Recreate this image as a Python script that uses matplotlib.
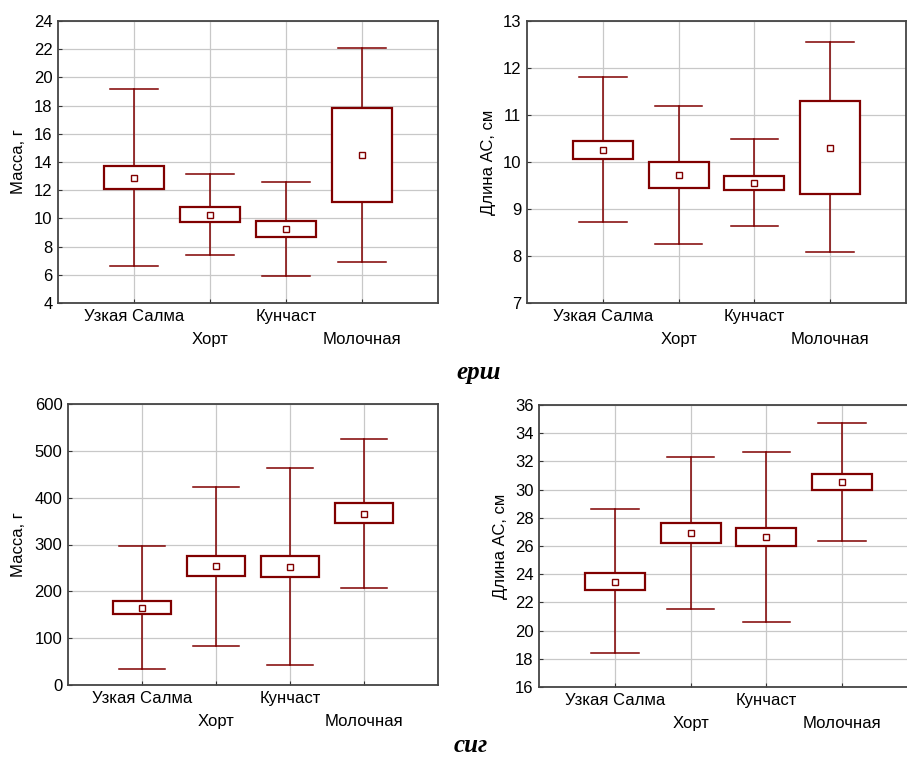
import numpy as np
import matplotlib
matplotlib.use("Agg")
import matplotlib.pyplot as plt
from matplotlib.transforms import blended_transform_factory

plt.rcParams["font.family"] = ["Liberation Sans", "DejaVu Sans"]
plt.rcParams["font.size"] = 12

# водоёмы
lakes = ["Узкая Салма", "Хорт", "Кунчаст", "Молочная"]

# ерш: масса, г
ruff_mass_mean = [12.9, 10.25, 9.25, 14.5]
ruff_mass_q1 = [12.1, 9.75, 8.7, 11.15]
ruff_mass_q3 = [13.75, 10.8, 9.8, 17.85]
ruff_mass_lo = [6.65, 7.4, 5.9, 6.9]
ruff_mass_hi = [19.2, 13.15, 12.6, 22.05]

# ерш: длина АС, см
ruff_len_mean = [10.25, 9.73, 9.56, 10.3]
ruff_len_q1 = [10.07, 9.45, 9.4, 9.32]
ruff_len_q3 = [10.45, 10.0, 9.7, 11.3]
ruff_len_lo = [8.72, 8.25, 8.63, 8.08]
ruff_len_hi = [11.8, 11.2, 10.48, 12.55]

# сиг: масса, г
whitefish_mass_mean = [165, 254, 252, 366]
whitefish_mass_q1 = [152, 232, 230, 345]
whitefish_mass_q3 = [180, 275, 275, 388]
whitefish_mass_lo = [35, 84, 42, 208]
whitefish_mass_hi = [297, 422, 464, 525]

# сиг: длина АС, см
whitefish_len_mean = [23.45, 26.9, 26.65, 30.55]
whitefish_len_q1 = [22.85, 26.2, 26.0, 30.0]
whitefish_len_q3 = [24.1, 27.6, 27.3, 31.1]
whitefish_len_lo = [18.4, 21.5, 20.6, 26.35]
whitefish_len_hi = [28.6, 32.3, 32.7, 34.7]

RED = "#800000"
W, H = 907, 762


def make_stats(mean, q1, q3, lo, hi):
    return [dict(med=m, mean=m, q1=a, q3=b, whislo=l, whishi=h, fliers=[])
            for m, a, b, l, h in zip(mean, q1, q3, lo, hi)]


def panel(fig, rect_px, stats, ylim, yticks, ylabel, ylabel_x):
    x0, y0, x1, y1 = rect_px
    ax = fig.add_axes([x0 / W, 1 - y1 / H, (x1 - x0) / W, (y1 - y0) / H])
    pos = np.arange(1, len(stats) + 1)
    ax.bxp(stats, positions=pos, widths=0.79, capwidths=0.63,
           showmeans=True, showfliers=False, patch_artist=True,
           boxprops=dict(facecolor="white", edgecolor=RED, linewidth=1.6),
           whiskerprops=dict(color=RED, linewidth=1.1),
           capprops=dict(color=RED, linewidth=1.1),
           medianprops=dict(linestyle="none"),
           meanprops=dict(marker="s", markersize=4, markerfacecolor="white",
                          markeredgecolor=RED, markeredgewidth=1.0),
           zorder=3)
    ax.set_xlim(0, 5)
    ax.set_ylim(*ylim)
    ax.set_yticks(yticks)
    ax.set_xticks(pos)
    ax.set_xticklabels([])
    ax.grid(True, color="#c8c8c8", linewidth=0.9, zorder=0)
    ax.set_axisbelow(True)
    ax.tick_params(axis="both", direction="in", length=3, width=0.8,
                   color="#333333", pad=4, labelsize=12)
    for side, sp in ax.spines.items():
        sp.set_color("#444444")
        sp.set_linewidth(1.3)
    # подписи водоёмов в два ряда
    tr = blended_transform_factory(ax.transData, ax.transAxes)
    for i, name in enumerate(lakes):
        dy = 6 if i % 2 == 0 else 29
        ax.text(pos[i], -dy / (y1 - y0), name, transform=tr,
                ha="center", va="top", fontsize=12)
    ax.set_ylabel(ylabel, fontsize=12)
    ax.yaxis.set_label_coords(ylabel_x / W, 1 - (y0 + y1) / 2 / H,
                              transform=fig.transFigure)
    return ax


fig = plt.figure(figsize=(W / 100, H / 100), dpi=100)

panel(fig, (58, 21, 438, 303),
      make_stats(ruff_mass_mean, ruff_mass_q1, ruff_mass_q3, ruff_mass_lo, ruff_mass_hi),
      (4, 24), np.arange(4, 25, 2), "Масса, г", 26)
panel(fig, (527, 21, 906, 303),
      make_stats(ruff_len_mean, ruff_len_q1, ruff_len_q3, ruff_len_lo, ruff_len_hi),
      (7, 13), np.arange(7, 14, 1), "Длина АС, см", 496)
panel(fig, (68, 404, 438, 685),
      make_stats(whitefish_mass_mean, whitefish_mass_q1, whitefish_mass_q3,
                 whitefish_mass_lo, whitefish_mass_hi),
      (0, 600), np.arange(0, 601, 100), "Масса, г", 26)
panel(fig, (539, 405, 918, 687),
      make_stats(whitefish_len_mean, whitefish_len_q1, whitefish_len_q3,
                 whitefish_len_lo, whitefish_len_hi),
      (16, 36), np.arange(16, 37, 2), "Длина АС, см", 508)

fig.text(479 / W, 1 - 372 / H, "ерш", ha="center", va="center",
         family=["Liberation Serif", "DejaVu Serif"], fontweight="bold",
         fontstyle="italic", fontsize=18)
fig.text(471 / W, 5 / H, "сиг", ha="center", va="bottom",
         family=["Liberation Serif", "DejaVu Serif"], fontweight="bold",
         fontstyle="italic", fontsize=18)

fig.savefig("out.png", dpi=100)
